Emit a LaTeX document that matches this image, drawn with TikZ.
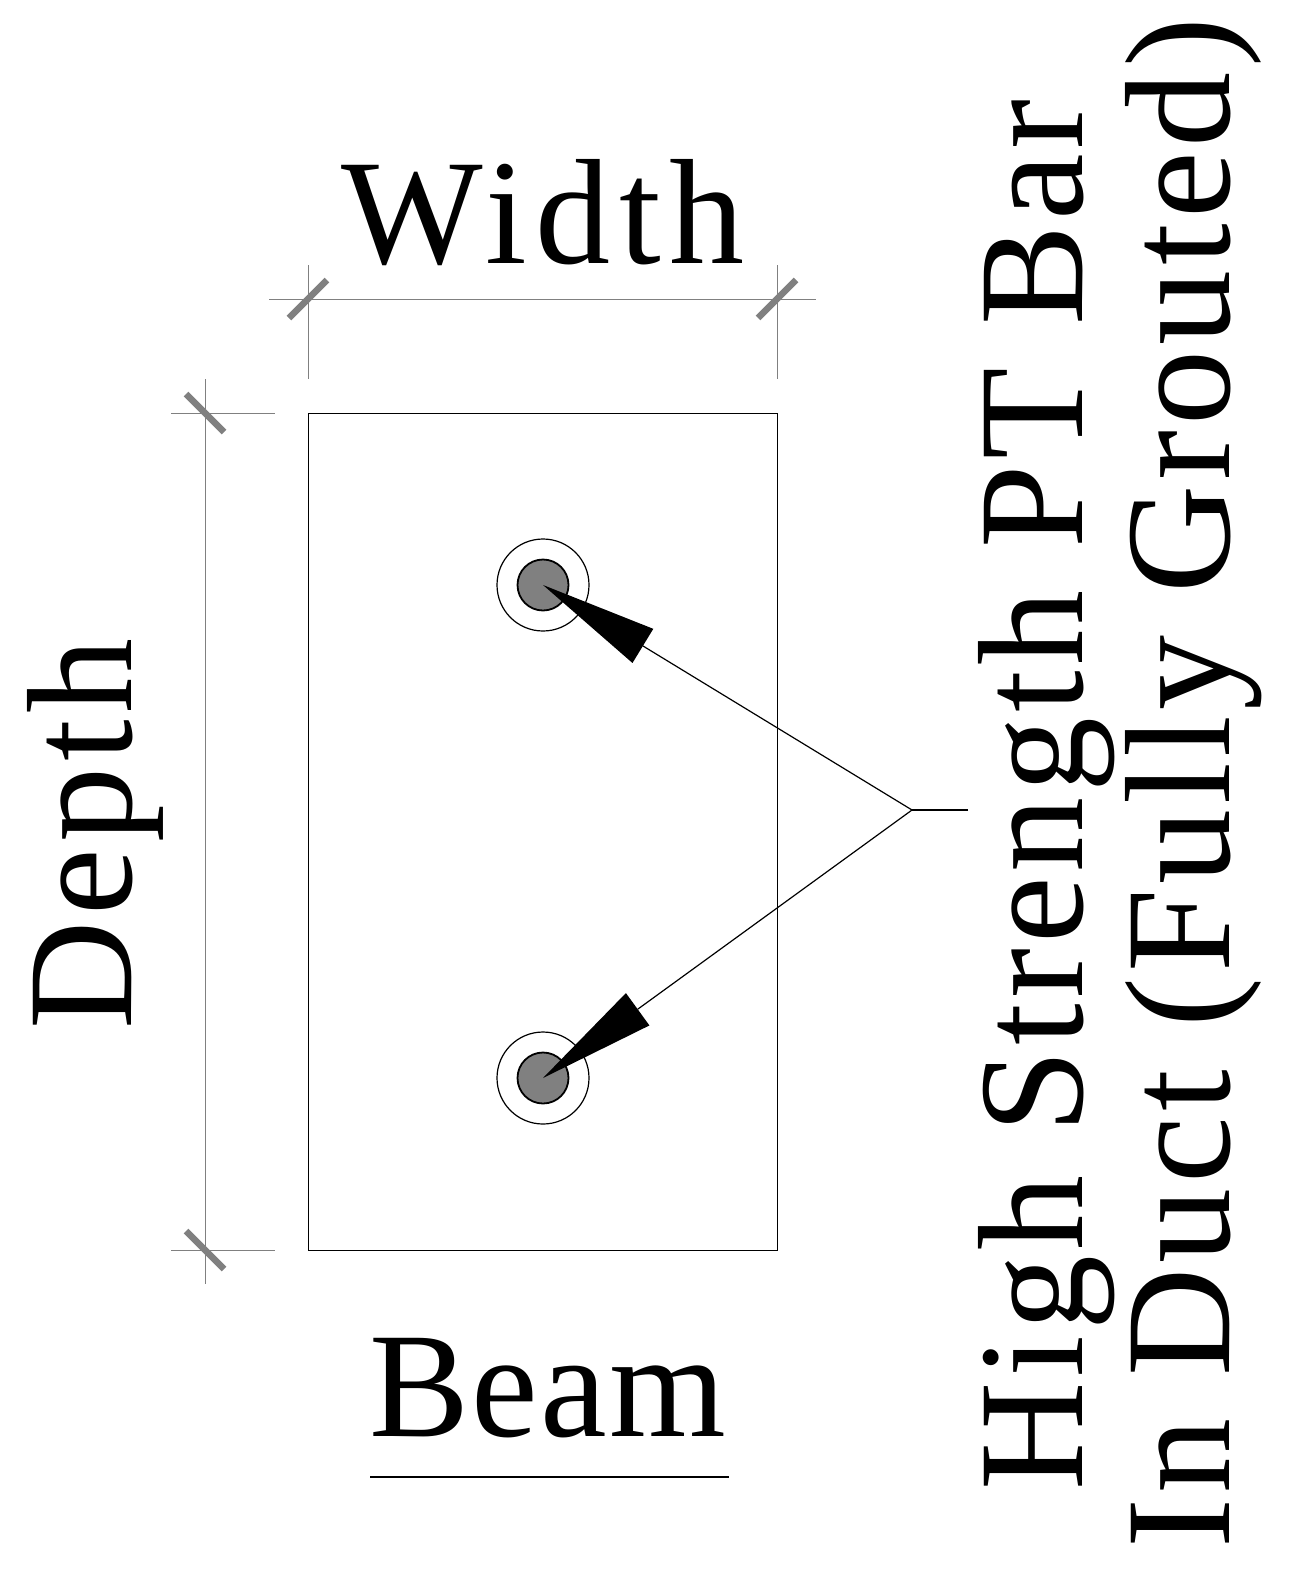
\documentclass[tikz,border=0pt]{standalone}
\usepackage{fontspec}
\setmainfont[LetterSpace=3.3]{Liberation Serif}
\usetikzlibrary{arrows.meta,calc}
\tikzset{
  dimline/.style={draw=gray,line width=1pt},
  dimtick/.style={draw=gray,line width=6.5pt},
  leader/.style={line width=1.2pt,-{Triangle[length=117pt,width=40pt,line width=0pt]}},
  bigtext/.style={font=\fontsize{150}{150}\selectfont,anchor=base,inner sep=0},
  duct/.style={circle,draw,line width=1.2pt,inner sep=0,minimum size=92pt},
  bar/.style={circle,draw,fill=gray,line width=1.8pt,inner sep=0,minimum size=51pt}
}
\begin{document}
\begin{tikzpicture}[x=1pt,y=-1pt]
    \useasboundingbox (0,0) rectangle (1292,1577);
    \node (beam) at (543,832) [draw,line width=1.3pt,inner sep=0,minimum width=469pt,minimum height=837pt] {};

    % width dimension
    \coordinate (wleft) at (308,299);
    \coordinate (wright) at (777,299);
    \draw[dimline] (269,299) -- (816,299);
    \draw[dimline] (308,265) -- (308,379);
    \draw[dimline] (777,265) -- (777,379);
    \draw[dimtick] ($(wleft)+(-19,19)$) -- ($(wleft)+(19,-19)$);
    \draw[dimtick] ($(wright)+(-19,19)$) -- ($(wright)+(19,-19)$);
    \node at (543,263) [bigtext] (widthlabel) {\addfontfeature{LetterSpace=5.8}Width};

    % depth dimension
    \coordinate (dtop) at (205,413);
    \coordinate (dbot) at (205,1250);
    \draw[dimline] (205,379) -- (205,1284);
    \draw[dimline] (171,413) -- (275,413);
    \draw[dimline] (171,1250) -- (275,1250);
    \draw[dimtick] ($(dtop)+(-19,-19)$) -- ($(dtop)+(19,19)$);
    \draw[dimtick] ($(dbot)+(-19,-19)$) -- ($(dbot)+(19,19)$);
    \node at (131,834) [bigtext,rotate=90] (depthlabel) {\addfontfeature{LetterSpace=4.2}Depth};

    % ducts
    \node (ductA) at (543,585) [duct] {};
    \node (barA) at (543,585) [bar] {};
    \node (ductB) at (543,1078) [duct] {};
    \node (barB) at (543,1078) [bar] {};

    % leaders
    \coordinate (fork) at (912,810);
    \coordinate (tail) at (968,810);
    \draw[line width=1.2pt] (tail) -- (fork);
    \draw[leader] (fork) -- (barA.center);
    \draw[leader] (fork) -- (barB.center);

    \node at (548,1436) [bigtext] (beamlabel) {\addfontfeature{LetterSpace=1.4}Beam};
    \draw[line width=1.5pt] (370,1477) -- (729,1477);

    \node at (1082,795) [bigtext,rotate=90] (barlabel) {High Strength PT Bar};
    \node at (1229,783) [bigtext,rotate=90] (ductlabel) {In Duct (Fully Grouted)};
  \end{tikzpicture}
\end{document}
